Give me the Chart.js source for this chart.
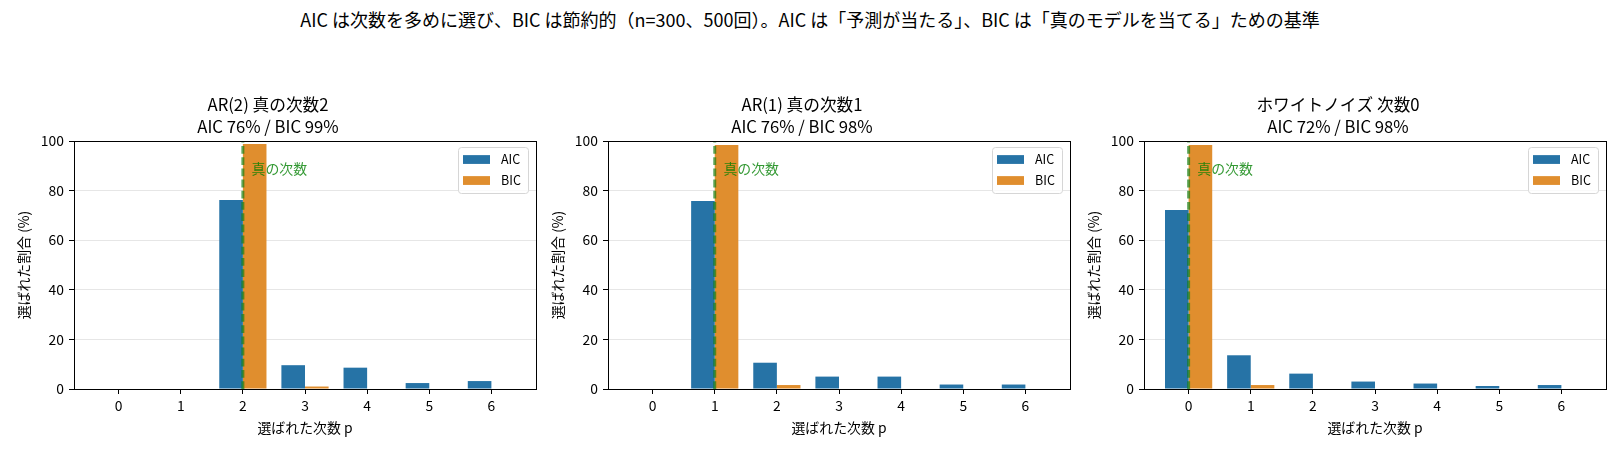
<!DOCTYPE html>
<html>
<head>
<meta charset="utf-8">
<script src="https://cdn.jsdelivr.net/npm/chart.js@4.4.1/dist/chart.umd.min.js"></script>
<style>
  body { margin: 0; background: #fff; }
  #wrap { position: relative; width: 1620px; height: 453px; overflow: hidden; background: #fff; }
  #sup { position: absolute; left: 0; top: 7px; width: 1620px; text-align: center;
         font: 18px "Noto Sans CJK JP", sans-serif; line-height: 24px; color: #000; }
  canvas { position: absolute; top: 0; }
</style>
</head>
<body>
<div id="wrap">
  <div id="sup">AIC は次数を多めに選び、BIC は節約的（n=300、500回）。AIC は「予測が当たる」、BIC は「真のモデルを当てる」ための基準</div>
  <canvas id="c0"></canvas>
  <canvas id="c1"></canvas>
  <canvas id="c2"></canvas>
</div>
<script>
// selected order p (0..6), % of 500 runs
const orders = [0, 1, 2, 3, 4, 5, 6];
const yTicks = [0, 20, 40, 60, 80, 100];
const seriesNames = ['AIC', 'BIC'];
const trueOrders = [2, 1, 0];
const panelTitles = [
  ['AR(2) 真の次数2', 'AIC 76% / BIC 99%'],
  ['AR(1) 真の次数1', 'AIC 76% / BIC 98%'],
  ['ホワイトノイズ 次数0', 'AIC 72% / BIC 98%']
];
const aicAR2 = [0, 0, 76.2, 9.6, 8.6, 2.4, 3.2];
const bicAR2 = [0, 0, 98.8, 1.0, 0.2, 0, 0];
const aicAR1 = [0, 75.8, 10.6, 5.0, 5.0, 1.8, 1.8];
const bicAR1 = [0, 98.4, 1.6, 0, 0, 0, 0];
const aicWN = [72.2, 13.6, 6.2, 3.0, 2.2, 1.2, 1.6];
const bicWN = [98.4, 1.6, 0, 0, 0, 0, 0];

const colors = ['#2673a6', '#e08e2e'];
const FONT = '"Noto Sans CJK JP", sans-serif';
Chart.defaults.font.family = FONT;
Chart.defaults.color = '#000';

const panelLefts = [74, 608, 1144];
const plotW = 462;
const yAxisW = 74;

function makeChart(i, aic, bic) {
  const canvas = document.getElementById('c' + i);
  canvas.width = yAxisW + plotW + 10;
  canvas.height = 453;
  canvas.style.left = (panelLefts[i] - yAxisW) + 'px';
  const trueP = trueOrders[i];

  const overlay = {
    id: 'overlay' + i,
    afterDatasetsDraw(chart) {
      const { ctx, chartArea: a, scales: { x, y } } = chart;
      const px = x.getPixelForValue(trueP);
      ctx.save();
      ctx.strokeStyle = 'rgba(20,128,20,0.68)';
      ctx.lineWidth = 3;
      ctx.setLineDash([7.8, 3.4]);
      ctx.beginPath();
      ctx.moveTo(px, a.bottom);
      ctx.lineTo(px, a.top);
      ctx.stroke();
      ctx.setLineDash([]);

      ctx.fillStyle = 'rgba(0,128,0,0.8)';
      ctx.font = '13.9px ' + FONT;
      ctx.textAlign = 'left';
      ctx.textBaseline = 'middle';
      ctx.fillText('真の次数', x.getPixelForValue(trueP + 0.14), y.getPixelForValue(89));

      ctx.strokeStyle = '#000';
      ctx.lineWidth = 1;
      ctx.strokeRect(Math.round(a.left) + 0.5, Math.round(a.top) + 0.5,
                     Math.round(a.right - a.left), Math.round(a.bottom - a.top));
      ctx.restore();
    },
    afterDraw(chart) {
      const { ctx, chartArea: a } = chart;
      const w = 70, h = 46;
      const left = a.right - 8 - w, top = a.top + 6;
      ctx.save();
      ctx.beginPath();
      ctx.roundRect(left + 0.5, top + 0.5, w, h, 3);
      ctx.fillStyle = 'rgba(255,255,255,0.8)';
      ctx.fill();
      ctx.strokeStyle = '#d6d6d6';
      ctx.lineWidth = 1;
      ctx.stroke();
      ctx.font = '12.5px ' + FONT;
      ctx.textBaseline = 'middle';
      ctx.textAlign = 'left';
      chart.data.datasets.forEach((ds, k) => {
        const cy = top + 12.5 + k * 21;
        ctx.fillStyle = ds.backgroundColor;
        ctx.fillRect(left + 5, cy - 4.4, 27, 8.8);
        ctx.fillStyle = '#000';
        ctx.fillText(ds.label, left + 43, cy);
      });
      ctx.restore();
    }
  };

  return new Chart(canvas, {
    type: 'bar',
    data: {
      datasets: [aic, bic].map((vals, k) => ({
        label: seriesNames[k],
        data: orders.map((p, j) => ({ x: p, y: vals[j] })),
        backgroundColor: colors[k],
        borderWidth: 0,
        categoryPercentage: 0.76,
        barPercentage: 1.0
      }))
    },
    options: {
      responsive: false,
      animation: false,
      events: [],
      layout: { padding: { left: 0, right: 10, top: 0, bottom: 0 } },
      plugins: {
        legend: { display: false },
        tooltip: { enabled: false },
        title: {
          display: true,
          text: panelTitles[i],
          color: '#000',
          font: { size: 16.7, weight: 'normal', lineHeight: 1.3 },
          padding: { top: 94, bottom: 3.6 }
        }
      },
      scales: {
        x: {
          type: 'linear',
          min: -0.718,
          max: 6.718,
          offset: false,
          afterBuildTicks: s => { s.ticks = orders.map(v => ({ value: v })); },
          afterFit: s => { s.height = 64; },
          ticks: { font: { size: 13.9 }, color: '#000', padding: 3, maxRotation: 0 },
          grid: { drawOnChartArea: false, offset: false, tickColor: '#000', tickLength: 5 },
          border: { display: true, color: '#000' },
          title: { display: true, text: '選ばれた次数 p', color: '#000',
                   font: { size: 13.9 }, padding: { top: 0, bottom: 16.7 } }
        },
        y: {
          min: 0,
          max: 100,
          afterBuildTicks: s => { s.ticks = yTicks.map(v => ({ value: v })); },
          afterFit: s => { s.width = yAxisW; },
          ticks: { font: { size: 13.9 }, color: '#000', padding: 5 },
          grid: { color: '#e6e6e6', tickColor: '#000', tickLength: 5, lineWidth: 1 },
          border: { display: true, color: '#000' },
          title: { display: true, text: '選ばれた割合 (%)', color: '#000',
                   font: { size: 13.9 }, padding: { top: 15.7, bottom: 0 } }
        }
      }
    },
    plugins: [overlay]
  });
}

makeChart(0, aicAR2, bicAR2);
makeChart(1, aicAR1, bicAR1);
makeChart(2, aicWN, bicWN);
</script>
</body>
</html>
